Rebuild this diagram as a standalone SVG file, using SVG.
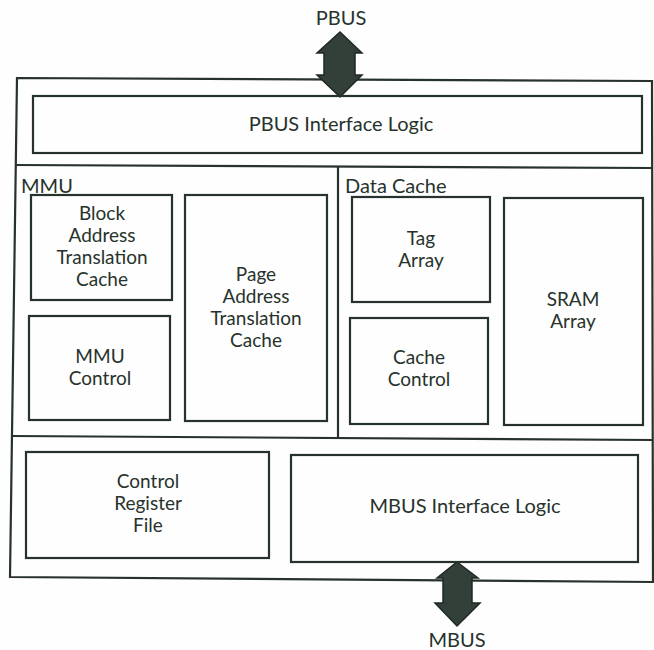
<svg xmlns="http://www.w3.org/2000/svg" width="654" height="650" viewBox="0 0 654 650">
  <style>
    .box { fill: none; stroke: #27322c; stroke-width: 2.2; }
    .line { fill: none; stroke: #27322c; stroke-width: 2.2; }
    .bus { fill: #33403a; stroke: #1f2924; stroke-width: 1.5; }
    text { font-family: "Lato", "Open Sans", sans-serif; font-size: 19px; fill: #27322c; text-anchor: middle; }
    .big { font-size: 20px; }
    .label { text-anchor: start; }
  </style>
  <rect width="654" height="650" fill="#fdfefd"/>

  <!-- chip outline and partition lines -->
  <g id="connectors">
    <path class="line" d="M17,78 L652,81 L653,582 L10,577 Z"/>
    <path class="line" d="M15,165 L652,168"/>
    <path class="line" d="M12,436 L653,440"/>
    <path class="line" d="M338,166 L338,438"/>
    <!-- bus arrows -->
    <path id="pbus-arrow" class="bus" d="M340,32 L362,53 L355,53 L355,75 L362,75 L340,97 L317,75 L324,75 L324,53 L317,53 Z"/>
    <path id="mbus-arrow" class="bus" d="M457,562 L478,578 L472,578 L472,603 L480,603 L457,626 L435,603 L443,603 L443,578 L437,578 Z"/>
  </g>

  <g id="pbus-label"><text class="big" x="341" y="25">PBUS</text></g>
  <g id="mbus-label"><text class="big" x="457" y="647">MBUS</text></g>

  <g id="pbus-interface">
    <rect class="box" x="33" y="96" width="609" height="57"/>
    <text class="big" x="341" y="131">PBUS Interface Logic</text>
  </g>

  <g id="mmu">
    <text class="label big" x="21" y="193">MMU</text>
  </g>
  <g id="data-cache">
    <text class="label big" x="345" y="193">Data Cache</text>
  </g>

  <g id="block-atc">
    <rect class="box" x="31" y="195" width="141" height="105"/>
    <text x="102" y="220">Block</text>
    <text x="102" y="242">Address</text>
    <text x="102" y="264">Translation</text>
    <text x="102" y="286">Cache</text>
  </g>

  <g id="mmu-control">
    <rect class="box" x="29" y="316" width="141" height="104"/>
    <text x="100" y="363">MMU</text>
    <text x="100" y="385">Control</text>
  </g>

  <g id="page-atc">
    <rect class="box" x="185" y="195" width="142" height="226"/>
    <text x="256" y="281">Page</text>
    <text x="256" y="303">Address</text>
    <text x="256" y="325">Translation</text>
    <text x="256" y="347">Cache</text>
  </g>

  <g id="tag-array">
    <rect class="box" x="352" y="197" width="138" height="105"/>
    <text x="421" y="245">Tag</text>
    <text x="421" y="267">Array</text>
  </g>

  <g id="cache-control">
    <rect class="box" x="350" y="318" width="138" height="106"/>
    <text x="419" y="364">Cache</text>
    <text x="419" y="386">Control</text>
  </g>

  <g id="sram-array">
    <rect class="box" x="504" y="198" width="139" height="227"/>
    <text x="573" y="306">SRAM</text>
    <text x="573" y="328">Array</text>
  </g>

  <g id="control-register-file">
    <rect class="box" x="26" y="452" width="243" height="106"/>
    <text x="148" y="488">Control</text>
    <text x="148" y="510">Register</text>
    <text x="148" y="532">File</text>
  </g>

  <g id="mbus-interface">
    <rect class="box" x="291" y="455" width="347" height="107"/>
    <text class="big" x="465" y="513">MBUS Interface Logic</text>
  </g>
</svg>
